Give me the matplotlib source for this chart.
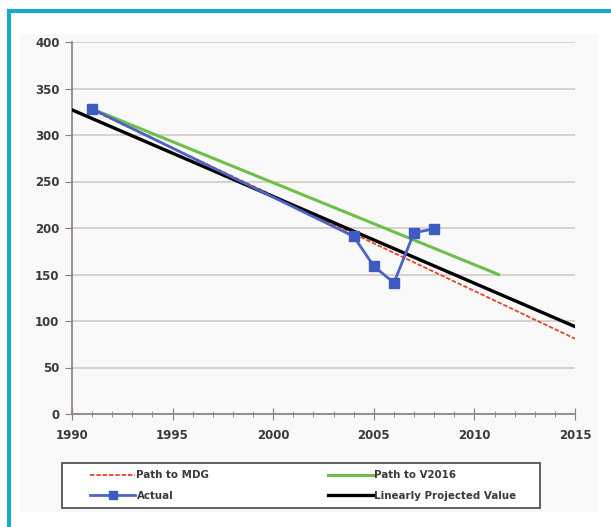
import numpy as np
import matplotlib.pyplot as plt
from matplotlib.patches import Rectangle

# data
actual_years = [1991, 2004, 2005, 2006, 2007, 2008]
actual_vals = [328, 191, 159, 141, 195, 199]

mdg_years = [1991, 2015]
mdg_vals = [327, 81]

v2016_years = [1991, 2011.2]
v2016_vals = [328, 150]

proj_years = [1990, 2015]
proj_vals = [327, 94]

grid_c = "#d3c9c3"
axis_c = "#8a7f7a"
text_c = "#3a3a3a"

fig = plt.figure(figsize=(6.11, 5.27), dpi=100)
W, H = 611, 527

# cyan frame and light chart background
fig.patches.append(Rectangle((9 / W, -0.05), 1.0, 1 - 11 / H + 0.05,
                             transform=fig.transFigure, fill=False,
                             edgecolor="#1fa8cc", linewidth=3, zorder=-2))
fig.patches.append(Rectangle((20 / W, 1 - 512 / H), 578 / W, 478 / H,
                             transform=fig.transFigure, facecolor="#f9f9f9",
                             edgecolor="none", zorder=-3))
# legend box drawn by hand
fig.patches.append(Rectangle((62 / W, 1 - 508 / H), 478 / W, 45 / H,
                             transform=fig.transFigure, facecolor="white",
                             edgecolor="#555555", linewidth=1.3, zorder=-1))

ax = fig.add_axes([72 / W, 1 - 414 / H, (575 - 72) / W, (414 - 42) / H])
ax.set_zorder(2)
ax.set_facecolor("none")

l_mdg, = ax.plot(mdg_years, mdg_vals, color="#e8452c", lw=1.3,
                 ls=(0, (2.5, 1)), label="Path to MDG", zorder=3)
l_v, = ax.plot(v2016_years, v2016_vals, color="#6cc04a", lw=2.2,
               label="Path to V2016", zorder=3)
l_act, = ax.plot(actual_years, actual_vals, color="#4a64c4", lw=2.0,
                 marker="s", ms=7.5, mfc="#3d5bc0", mec="#3d5bc0",
                 label="Actual", zorder=4)
l_proj, = ax.plot(proj_years, proj_vals, color="black", lw=2.4,
                  label="Linearly Projected Value", zorder=3)

ax.set_xlim(1990, 2015)
ax.set_ylim(0, 400)
ax.set_xticks(range(1990, 2016, 5))
ax.set_xticks(range(1990, 2016), minor=True)
ax.set_yticks(range(0, 401, 50))
ax.yaxis.grid(True, color=grid_c, lw=1.2)
ax.set_axisbelow(True)

for s in ["top", "right"]:
    ax.spines[s].set_visible(False)
for s in ["left", "bottom"]:
    ax.spines[s].set_color(axis_c)
    ax.spines[s].set_linewidth(1.2)

ax.tick_params(axis="x", which="major", direction="inout", length=8,
               color=axis_c, labelsize=8.5, labelcolor=text_c, pad=7)
ax.tick_params(axis="x", which="minor", direction="inout", length=5,
               color=axis_c)
ax.tick_params(axis="y", direction="out", length=5, color=axis_c,
               labelsize=8.5, labelcolor=text_c, pad=4)
for lab in ax.get_xticklabels() + ax.get_yticklabels():
    lab.set_fontweight("bold")

handles = [l_mdg, l_act, l_v, l_proj]
leg = fig.legend(handles, [h.get_label() for h in handles],
                 loc="center left", bbox_to_anchor=(82 / W, 1 - 485.5 / H),
                 ncol=2, frameon=False, fontsize=7.4,
                 handlelength=4.4, handletextpad=0.1, columnspacing=11.5,
                 labelspacing=1.0, borderpad=0.3, markerscale=0.75)
leg.set_zorder(5)
for t in leg.get_texts():
    t.set_color(text_c)
    t.set_fontweight("bold")

fig.savefig("out.png", dpi=100)
